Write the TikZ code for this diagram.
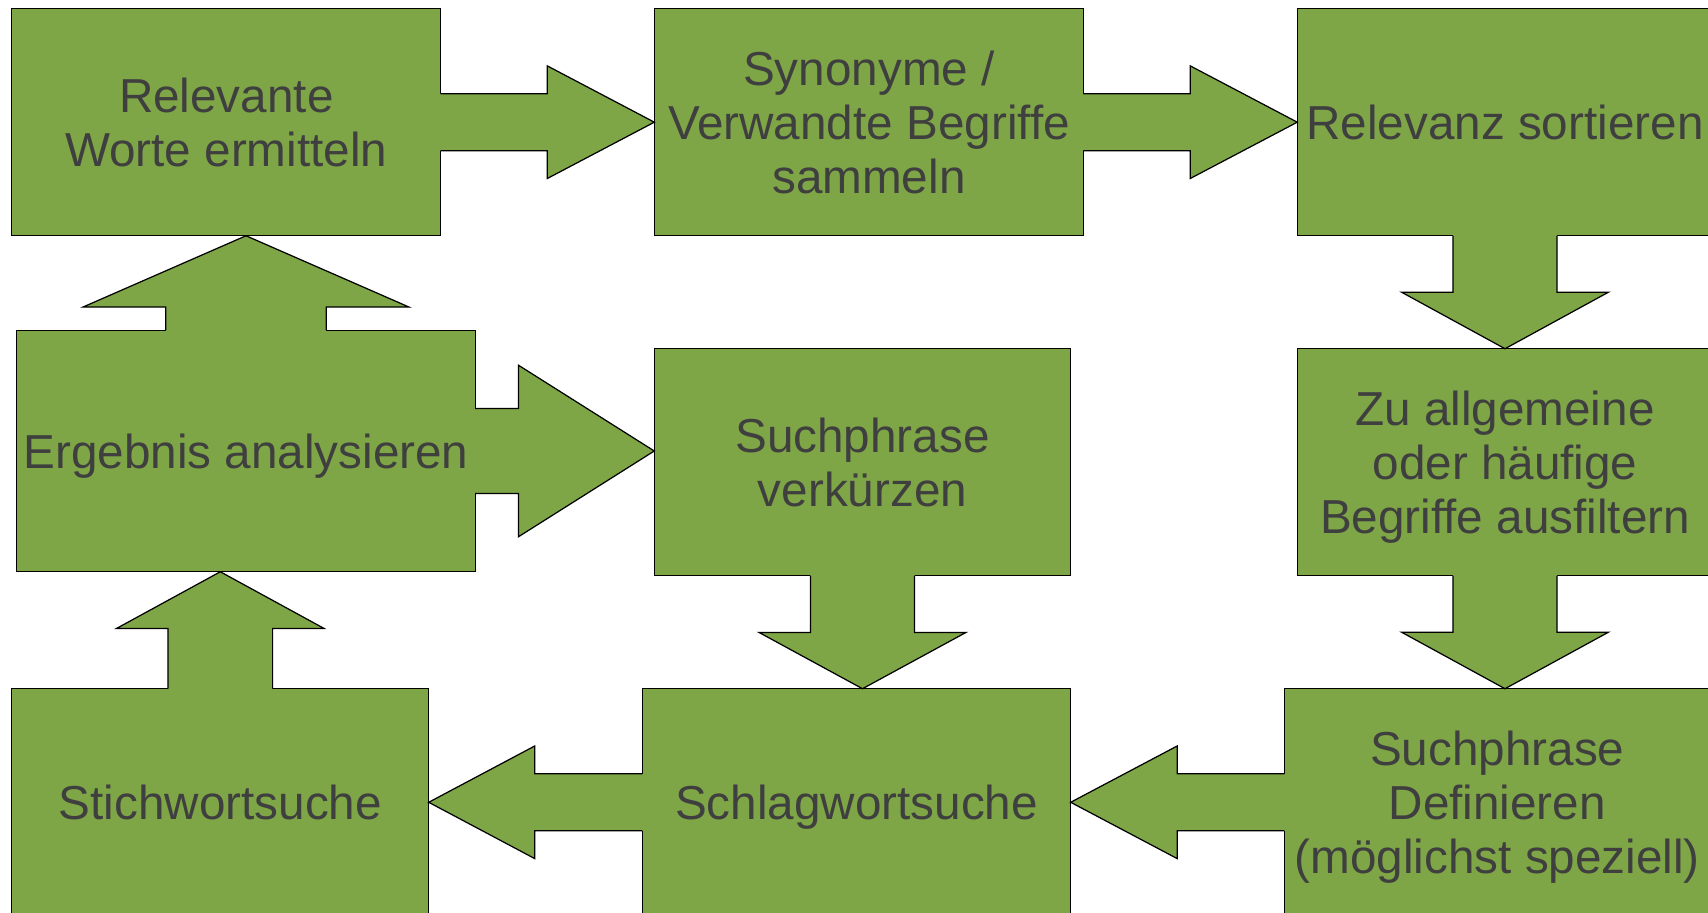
\documentclass[tikz,border=0pt]{standalone}
\usepackage{fontspec}
\setmainfont{Liberation Sans}
\usetikzlibrary{calc}
\definecolor{boxgreen}{HTML}{7EA646}
\definecolor{boxtext}{HTML}{3F3F3F}
\tikzset{%
  every box/.style={
    draw=black,
    fill=boxgreen,
    text=boxtext,
    line width=0.35pt,
    inner sep=0pt,
    outer sep=0pt,
    align=center,
    text depth=0pt,
    minimum height=2.27cm,
    font=\fontsize{13.55}{15.4}\selectfont
  },
  arrow body/.style={fill=boxgreen},
  arrow line/.style={draw=black, line width=0.35pt, line join=miter}
}
% block arrow: #1 from, #2 tip, #3 half shaft, #4 half head, #5 head length
\newcommand{\blockarrow}[5]{%
  \coordinate (ba-s) at (#1);
  \coordinate (ba-t) at (#2);
  \coordinate (ba-b) at ($(ba-t)!#5!(ba-s)$);
  \coordinate (ba-o) at ($(ba-s)!-1.5pt!(ba-t)$);
  \fill[arrow body] ($(ba-o)!#3!90:(ba-t)$) -- ($(ba-b)!#3!90:(ba-t)$)
    -- ($(ba-b)!#4!90:(ba-t)$) -- (ba-t) -- ($(ba-b)!#4!-90:(ba-t)$)
    -- ($(ba-b)!#3!-90:(ba-t)$) -- ($(ba-o)!#3!-90:(ba-t)$) -- cycle;
  \draw[arrow line] ($(ba-s)!#3!90:(ba-t)$) -- ($(ba-b)!#3!90:(ba-t)$)
    -- ($(ba-b)!#4!90:(ba-t)$) -- (ba-t) -- ($(ba-b)!#4!-90:(ba-t)$)
    -- ($(ba-b)!#3!-90:(ba-t)$) -- ($(ba-s)!#3!-90:(ba-t)$);
}

\begin{document}
\begin{tikzpicture}[x=0.01cm, y=-0.01cm]

\path[use as bounding box, clip] (0,0) rectangle (1708,913);

% top row
\node [every box, minimum width=4.286cm] (rel) at (226.3,122.2) {Relevante\\Worte ermitteln};
\node [every box, minimum width=4.289cm] (syn) at (868.9,122.2) {Synonyme /\\Verwandte Begriffe\\sammeln};
\node [every box, minimum width=4.152cm] (sort) at (1505,122.2) {Relevanz sortieren};

% middle row
\node [every box, minimum width=4.58cm, minimum height=2.414cm] (erg) at (246,451) {Ergebnis analysieren};
\node [every box, minimum width=4.162cm] (kurz) at (862.5,462.3) {Suchphrase\\verkürzen};
\node [every box, minimum width=4.152cm] (filt) at (1505,462.3) {Zu allgemeine\\oder häufige\\Begriffe ausfiltern};

% bottom row
\node [every box, minimum width=4.166cm] (stich) at (220.3,802.3) {Stichwortsuche};
\node [every box, minimum width=4.281cm] (schlag) at (856.5,802.3) {Schlagwortsuche};
\node [every box, minimum width=4.254cm] (def) at (1497.3,802.3) {Suchphrase\\Definieren\\(möglichst speziell)};

\foreach \a/\b/\sw/\hw/\hl in {
    rel.east/syn.west/0.285cm/0.563cm/1.07cm,
    syn.east/sort.west/0.285cm/0.563cm/1.07cm,
    sort.south/filt.north/0.52cm/1.032cm/0.564cm,
    filt.south/filt.south |- def.north/0.52cm/1.032cm/0.564cm,
    def.west/schlag.east/0.285cm/0.563cm/1.065cm,
    schlag.west/stich.east/0.285cm/0.563cm/1.06cm,
    stich.north/stich.north |- erg.south/0.523cm/1.036cm/0.566cm,
    erg.north/erg.north |- rel.south/0.802cm/1.63cm/0.713cm,
    erg.east/kurz.west |- erg.east/0.425cm/0.857cm/1.357cm,
    kurz.south/kurz.south |- schlag.north/0.52cm/1.035cm/0.563cm}
  \blockarrow{\a}{\b}{\sw}{\hw}{\hl};

\end{tikzpicture}
\end{document}
